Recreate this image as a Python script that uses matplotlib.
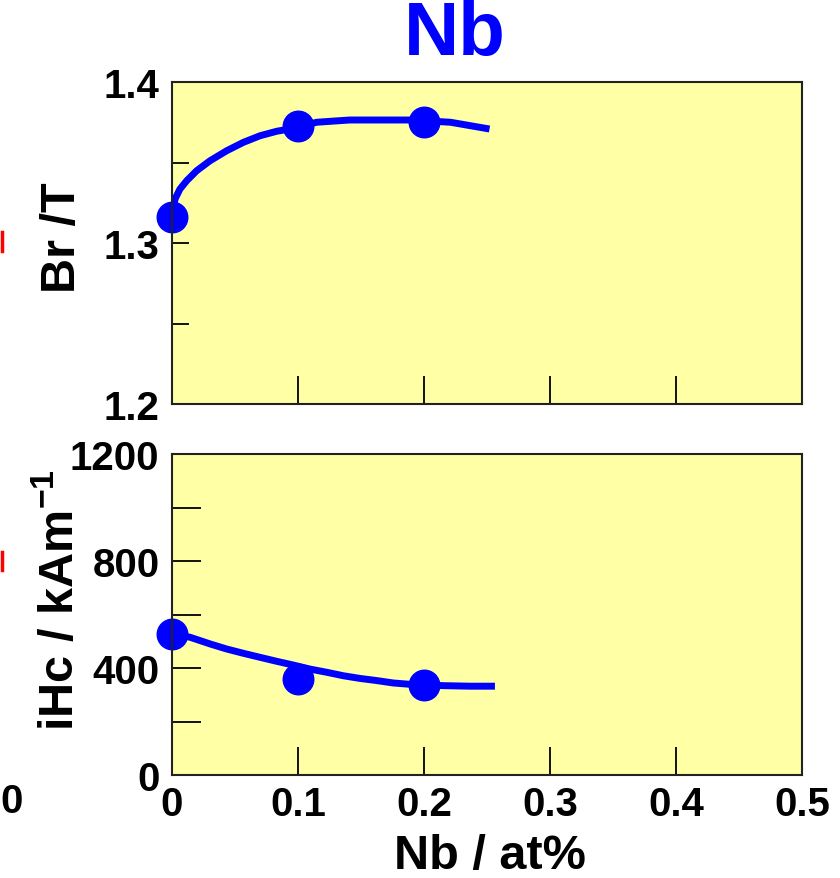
import matplotlib
matplotlib.use("Agg")
import matplotlib.pyplot as plt
from matplotlib.lines import Line2D

plt.rcParams['font.family'] = ['Liberation Sans', 'DejaVu Sans']
plt.rcParams['font.weight'] = 'bold'
plt.rcParams['mathtext.fontset'] = 'custom'
plt.rcParams['mathtext.rm'] = 'Liberation Sans:bold'
plt.rcParams['mathtext.bf'] = 'Liberation Sans:bold'

# measured points
nb = [0.0, 0.1, 0.2]
br = [1.316, 1.3725, 1.375]
ihc = [527, 359, 338]

# fitted guide curves
br_fit_x = [0.0, 0.0024, 0.0063, 0.0117, 0.0196, 0.0302, 0.0434, 0.0566, 0.0698,
            0.0831, 0.0963, 0.1148, 0.141, 0.189, 0.221, 0.252]
br_fit_y = [1.316, 1.3273, 1.3335, 1.3387, 1.3449, 1.3511, 1.3573, 1.3625, 1.3666,
            1.3694, 1.3712, 1.3750, 1.3764, 1.3764, 1.3750, 1.3708]
hc_fit_x = [0.0, 0.0143, 0.0302, 0.0434, 0.0566, 0.0698, 0.0831, 0.0963, 0.1095,
            0.1228, 0.136, 0.1492, 0.1625, 0.1756, 0.1889, 0.2153, 0.2365, 0.2563]
hc_fit_y = [527, 515, 490, 471, 455, 440, 425, 411, 396,
            384, 371, 361, 353, 344, 339, 334, 332, 332]

x_ticks = [0, 0.1, 0.2, 0.3, 0.4, 0.5]
x_labels = ["0", "0.1", "0.2", "0.3", "0.4", "0.5"]
br_ticks = [1.2, 1.3, 1.4]
br_minor = [1.25, 1.35]
hc_ticks = [0, 400, 800, 1200]
hc_minor = [200, 600, 1000]

W, H = 840, 879
bg = "#FFFFA6"
blue = "#0000FF"

fig = plt.figure(figsize=(W / 100, H / 100), dpi=100)
ax1 = fig.add_axes([172 / W, 1 - 405 / H, 630 / W, 322 / H])
ax2 = fig.add_axes([172 / W, 1 - 776 / H, 630 / W, 321 / H])

for ax in (ax1, ax2):
    ax.set_facecolor(bg)
    ax.set_xlim(0, 0.5)
    ax.set_xticks(x_ticks)
    for s in ax.spines.values():
        s.set_linewidth(1.5)
        s.set_color("#222222")
    ax.tick_params(axis="both", which="both", direction="in", width=1.3,
                   labelsize=29, pad=9, top=False, right=False)
    ax.tick_params(axis="x", length=20, pad=7)

# --- Br panel
ax1.plot(br_fit_x, br_fit_y, color=blue, lw=5, solid_joinstyle="round",
         solid_capstyle="butt", clip_on=False)
ax1.plot(nb, br, "o", color=blue, ms=22, clip_on=False)
ax1.set_ylim(1.2, 1.4)
ax1.set_yticks(br_ticks)
ax1.set_yticklabels([f"{v:.1f}" for v in br_ticks])
ax1.set_yticks(br_minor, minor=True)
ax1.tick_params(axis="y", which="both", length=12)
ax1.tick_params(axis="x", labelbottom=False)

# --- iHc panel
ax2.plot(hc_fit_x, hc_fit_y, color=blue, lw=5, solid_joinstyle="round",
         solid_capstyle="butt", clip_on=False)
ax2.plot(nb, ihc, "o", color=blue, ms=22, clip_on=False)
ax2.set_ylim(0, 1200)
ax2.set_yticks(hc_ticks)
ax2.set_yticks(hc_minor, minor=True)
ax2.tick_params(axis="y", which="both", length=21)
ax2.set_xticklabels(x_labels)

# labels and title
fig.text(455 / W, 1 - 36 / H, "Nb", color=blue, fontsize=55, fontweight="bold",
         ha="center", va="center")
fig.text(62 / W, 1 - 238 / H, "Br /T", fontsize=35, fontweight="bold",
         rotation=90, ha="center", va="center")
fig.text(60 / W, 1 - 600 / H, "iHc / kAm$^{-1}$", fontsize=35,
         fontweight="bold", rotation=90, ha="center", va="center")
fig.text(490 / W, 1 - 857 / H, "Nb / at%", fontsize=35, fontweight="bold",
         ha="center", va="center")

# pieces of the neighbouring panel cut off at the left edge
fig.text(0, 1 - 802 / H, "0", fontsize=29, fontweight="bold",
         ha="left", va="center")
for y0, y1 in ((233, 252), (553, 571)):
    fig.add_artist(Line2D([1.5 / W, 1.5 / W], [1 - y0 / H, 1 - y1 / H], color="red", lw=2.5))

fig.savefig("out.png", dpi=100)
